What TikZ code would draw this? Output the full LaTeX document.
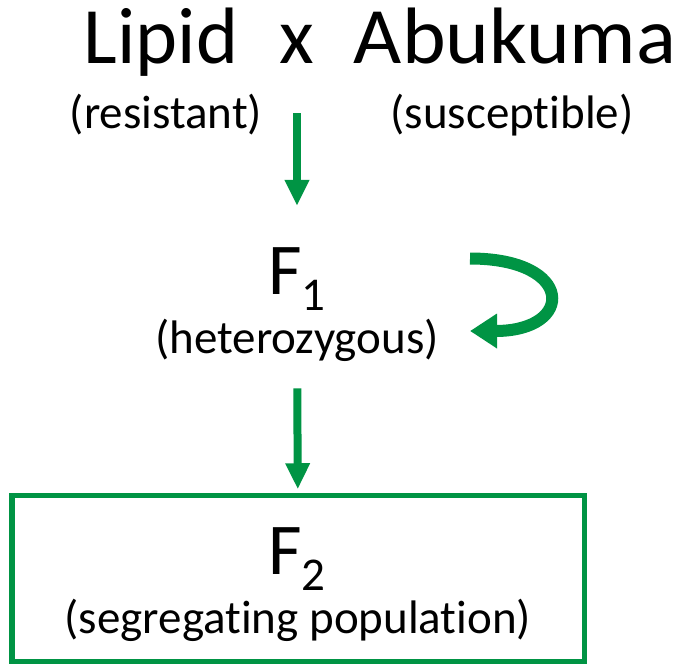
\documentclass[tikz,border=0pt]{standalone}
\usepackage{fontspec}
\setmainfont{Carlito}[Ligatures=NoCommon]
\usetikzlibrary{arrows.meta}
\definecolor{leaf}{RGB}{0,148,68}
\newcommand{\gsub}[1]{\raisebox{-16pt}{\fontsize{47}{47}\selectfont #1}}

\begin{document}
\begin{tikzpicture}[x=1pt,y=-1pt,
        parent/.style={inner sep=0pt,anchor=base,font=\fontsize{80}{96}\selectfont},
        note/.style={inner sep=0pt,anchor=base,font=\fontsize{47}{56}\selectfont},
        gen/.style={inner sep=0pt,anchor=base,font=\fontsize{73}{88}\selectfont},
        shaft/.style={-{Triangle[length=26pt,width=23pt]},line width=8pt,leaf},
        selfing/.style={-{Triangle[length=27pt,width=33pt]},line width=12pt,leaf}]
      \useasboundingbox (0,0) rectangle (679,664);
      \node[parent] (l) at (161,63) {Lipid};
      \node[parent] (x) at (297,63) {x};
      \node[parent,xscale=1.04] (a) at (515,63) {Abukuma};
      \node[note] (r) at (166,128) {(resistant)};
      \node[note] (s) at (512,128) {(susceptible)};
      \node[gen] (f1) at (297,294) {F\gsub{1}};
      \node[note] (h) at (297,353) {(heterozygous)};
      \node[draw=leaf,line width=5.5pt,minimum width=572.5pt,minimum height=166pt,inner sep=0pt] (b) at (298.25,578.5) {};
      \node[gen] (f2) at (297,574) {F\gsub{2}};
      \node[note] (p) at (298,633) {(segregating population)};
      \coordinate (ls) at (470,258.5);
      \coordinate (le) at (470,331);
      \draw[shaft,shorten <=50pt,shorten >=41pt] (x) -- (f1);
      \draw[shaft,shorten <=27pt,shorten >=3.5pt] (h) -- (b);
      \draw[selfing] (ls) .. controls (575,258.5) and (575,331) .. (le);
    \end{tikzpicture}
\end{document}
